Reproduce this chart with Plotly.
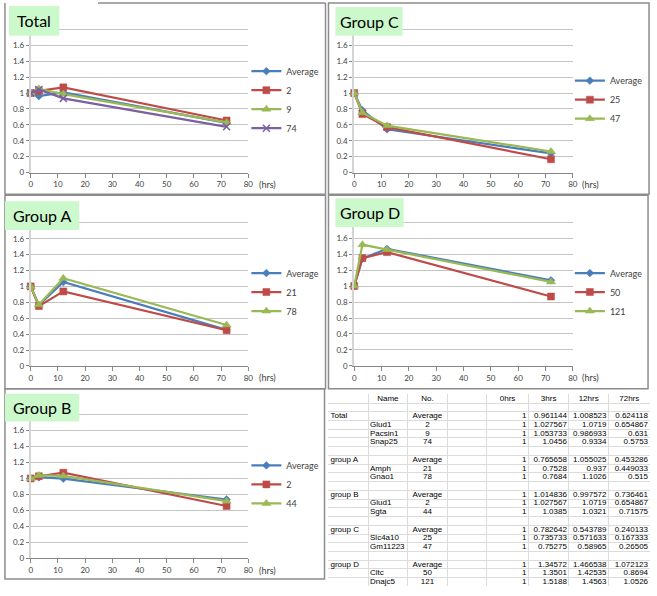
import plotly.graph_objects as go

# ---------------- data ----------------
hours = [0, 3, 12, 72]

total_labels = ["Average", "2", "9", "74"]
total_avg = [1, 0.961144, 1.008523, 0.624118]
total_2 = [1, 1.027567, 1.0719, 0.654867]
total_9 = [1, 1.053733, 0.986933, 0.631]
total_74 = [1, 1.0456, 0.9334, 0.5753]

groupA_labels = ["Average", "21", "78"]
groupA_avg = [1, 0.765658, 1.055025, 0.453286]
groupA_21 = [1, 0.7528, 0.937, 0.449033]
groupA_78 = [1, 0.7684, 1.1026, 0.515]

groupB_labels = ["Average", "2", "44"]
groupB_avg = [1, 1.014836, 0.997572, 0.736461]
groupB_2 = [1, 1.027567, 1.0719, 0.654867]
groupB_44 = [1, 1.0385, 1.0321, 0.71575]

groupC_labels = ["Average", "25", "47"]
groupC_avg = [1, 0.782642, 0.543789, 0.240133]
groupC_25 = [1, 0.735733, 0.571633, 0.167333]
groupC_47 = [1, 0.75275, 0.58965, 0.26505]

groupD_labels = ["Average", "50", "121"]
groupD_avg = [1, 1.34572, 1.466538, 1.072123]
groupD_50 = [1, 1.3501, 1.42535, 0.8694]
groupD_121 = [1, 1.5188, 1.4563, 1.0526]

panel_titles = ["Total", "Group C", "Group A", "Group D", "Group B"]

y_tick_vals = [0, 0.2, 0.4, 0.6, 0.8, 1.0, 1.2, 1.4, 1.6, 1.8, 2.0]
y_tick_text = ["0", "0.2", "0.4", "0.6", "0.8", "1", "1.2", "1.4", "1.6", "", ""]
x_tick_vals = [0, 10, 20, 30, 40, 50, 60, 70, 80]

table_header = ["", "Name", "No.", "", "0hrs", "3hrs", "12hrs", "72hrs"]
table_groups = ["Total", "group A", "group B", "group C", "group D"]
table_genes = [["Glud1", "Pacsin1", "Snap25"], ["Amph", "Gnao1"], ["Glud1", "Sgta"],
               ["Slc4a10", "Gm11223"], ["Cltc", "Dnajc5"]]
table_nos = [total_labels, groupA_labels, groupB_labels, groupC_labels, groupD_labels]
table_values = [[total_avg, total_2, total_9, total_74],
                [groupA_avg, groupA_21, groupA_78],
                [groupB_avg, groupB_2, groupB_44],
                [groupC_avg, groupC_25, groupC_47],
                [groupD_avg, groupD_50, groupD_121]]
col_widths = [40, 40, 40, 40, 42, 41, 40, 42]

# ---------------- layout helpers ----------------
W, H = 657, 596
def fx(p): return p / W
def fy(p): return 1 - p / H

COLORS = ["#4a7ebb", "#be4b48", "#98b954", "#7d60a0"]
SYMBOLS = ["diamond", "square", "triangle-up", "x-thin-open"]
SIZES = [6, 7, 8, 7]
FONT = "Lato"

fig = go.Figure()

panels = [
    ("Total", total_labels, [total_avg, total_2, total_9, total_74],
     (29, 249, 13.7, 174), (247, 100.5), (3, 3, 327, 196), (7, 6, 58, 36), 268),
    ("Group C", groupC_labels, [groupC_avg, groupC_25, groupC_47],
     (356, 577, 13.7, 174), (574, 100.5), (330, 3, 654, 196), (337, 7, 405, 36), 595),
    ("Group A", groupA_labels, [groupA_avg, groupA_21, groupA_78],
     (29, 249, 208.7, 369), (247, 294.5), (3, 197, 327, 392), (3, 203, 78, 232), 268),
    ("Group D", groupD_labels, [groupD_avg, groupD_50, groupD_121],
     (356, 577, 208, 369), (574, 294.5), (330, 197, 653, 392), (337, 200, 406, 229), 595),
    ("Group B", groupB_labels, [groupB_avg, groupB_2, groupB_44],
     (29, 249, 402, 563), (247, 488.5), (3, 392, 326, 584), (3, 397, 78, 425), 268),
]

shapes = []
annotations = []
layout_extra = {}

for i, (title, labels, series, box, leg, frame, tbox, hrs_x) in enumerate(panels):
    n = i + 1
    xa = "x" if n == 1 else f"x{n}"
    ya = "y" if n == 1 else f"y{n}"
    lg = "legend" if n == 1 else f"legend{n}"
    for k, (lab, vals) in enumerate(zip(labels, series)):
        fig.add_trace(go.Scatter(
            x=hours, y=vals, name=lab, mode="lines+markers",
            line=dict(color=COLORS[k], width=2.2),
            marker=dict(symbol=SYMBOLS[k], size=SIZES[k], color=COLORS[k],
                        line=dict(color=COLORS[k], width=1.5 if k == 3 else 0.5)),
            xaxis=xa, yaxis=ya, legend=lg, cliponaxis=False, hoverinfo="skip"))
    x0, x1, yt, yb = box
    layout_extra["xaxis" if n == 1 else f"xaxis{n}"] = dict(
        domain=[fx(x0), fx(x1)], anchor=ya, range=[0, 80],
        tickmode="array", tickvals=x_tick_vals,
        showgrid=False, zeroline=False, showline=True, linecolor="#868686", linewidth=1,
        ticks="outside", ticklen=4, tickcolor="#868686",
        tickfont=dict(family=FONT, size=8, color="#404040"))
    layout_extra["yaxis" if n == 1 else f"yaxis{n}"] = dict(
        domain=[fy(yb), fy(yt)], anchor=xa, range=[0, 2],
        tickmode="array", tickvals=y_tick_vals, ticktext=y_tick_text,
        showgrid=True, gridcolor="#c4c4c4", gridwidth=1, zeroline=False,
        showline=True, linecolor="#d4d4d4", linewidth=2,
        ticks="outside", ticklen=3, tickcolor="#868686",
        tickfont=dict(family=FONT, size=8, color="#404040"))
    layout_extra[lg] = dict(
        x=fx(leg[0]), y=fy(leg[1]), xanchor="left", yanchor="middle",
        font=dict(family=FONT, size=9, color="#404040"),
        bgcolor="rgba(0,0,0,0)", borderwidth=0, tracegroupgap=0)
    fx0, fy0, fx1, fy1 = frame
    if n == 1:
        for (a, b, c, d) in [(97, fy0, fx1, fy0), (fx0, fy0, fx0, fy1), (fx1, fy0, fx1, fy1), (fx0, fy1, fx1, fy1)]:
            shapes.append(dict(type="line", xref="paper", yref="paper",
                               x0=fx(a), y0=fy(b), x1=fx(c), y1=fy(d),
                               line=dict(color="#8c8c8c", width=1.5), layer="above"))
    else:
        shapes.append(dict(type="rect", xref="paper", yref="paper",
                           x0=fx(fx0), y0=fy(fy0), x1=fx(fx1), y1=fy(fy1),
                           line=dict(color="#8c8c8c", width=1.5), layer="above"))
    bx0, by0, bx1, by1 = tbox
    shapes.append(dict(type="rect", xref="paper", yref="paper",
                       x0=fx(bx0), y0=fy(by0), x1=fx(bx1), y1=fy(by1),
                       fillcolor="#ccf9cc", line=dict(width=0), layer="above"))
    annotations.append(dict(text=title, xref="paper", yref="paper",
                            x=fx((bx0 + bx1) / 2), y=fy((by0 + by1) / 2),
                            xanchor="center", yanchor="middle", showarrow=False,
                            font=dict(family=FONT, size=16, color="black")))
    annotations.append(dict(text="(hrs)", xref="paper", yref="paper",
                            x=fx(hrs_x), y=fy(yb + 12), xanchor="center", yanchor="middle",
                            showarrow=False, font=dict(family=FONT, size=9, color="#404040")))

# ---------------- table ----------------
def fmt(v):
    return str(int(v)) if float(v).is_integer() else str(v)

rows = [table_header, [""] * 8]
for gi, gname in enumerate(table_groups):
    nos = table_nos[gi]
    vals = table_values[gi]
    rows.append([gname, "", nos[0], ""] + [fmt(v) for v in vals[0]])
    for gene, no, v in zip(table_genes[gi], nos[1:], vals[1:]):
        rows.append(["", gene, no, ""] + [fmt(x) for x in v])
    if gi < len(table_groups) - 1:
        rows.append([""] * 8)

bounds = [0]
for w in col_widths:
    bounds.append(bounds[-1] + w)

TA = 6
tfont = dict(family="Liberation Sans", size=8, color="black")
for j in range(8):
    left, right = bounds[j], bounds[j + 1]
    fig.add_trace(go.Scatter(x=[(left + right) / 2], y=[0], text=[rows[0][j]], mode="text",
                             textposition="middle center", textfont=tfont, showlegend=False,
                             xaxis=f"x{TA}", yaxis=f"y{TA}", hoverinfo="skip", cliponaxis=False))
    ys = list(range(1, len(rows)))
    txt = [rows[r][j] for r in ys]
    if j in (0, 1):
        xs, pos = left + 2, "middle right"
    elif j in (2, 3):
        xs, pos = (left + right) / 2, "middle center"
    else:
        xs, pos = right - 2, "middle left"
    fig.add_trace(go.Scatter(x=[xs] * len(ys), y=ys, text=txt, mode="text",
                             textposition=pos, textfont=tfont, showlegend=False,
                             xaxis=f"x{TA}", yaxis=f"y{TA}", hoverinfo="skip", cliponaxis=False))

nrows = len(rows)
layout_extra[f"xaxis{TA}"] = dict(domain=[fx(330), fx(655)], anchor=f"y{TA}",
                                  range=[0, bounds[-1]], tickvals=bounds, showticklabels=False,
                                  showgrid=True, gridcolor="#dcdcdc", gridwidth=1, zeroline=False,
                                  showline=False, ticks="")
layout_extra[f"yaxis{TA}"] = dict(domain=[fy(591.4), fy(397.6)], anchor=f"x{TA}",
                                  range=[nrows - 0.5, -0.5],
                                  tickvals=[k + 0.5 for k in range(-1, nrows)],
                                  showticklabels=False, showgrid=True, gridcolor="#dcdcdc",
                                  gridwidth=1, zeroline=False, showline=False, ticks="")

fig.update_layout(width=W, height=H, margin=dict(l=0, r=0, t=0, b=0),
                  paper_bgcolor="white", plot_bgcolor="white",
                  shapes=shapes, annotations=annotations, **layout_extra)

fig.write_html("out.html", config={"displayModeBar": False},
               post_script="document.body.style.margin='0';document.body.style.overflow='hidden';")
